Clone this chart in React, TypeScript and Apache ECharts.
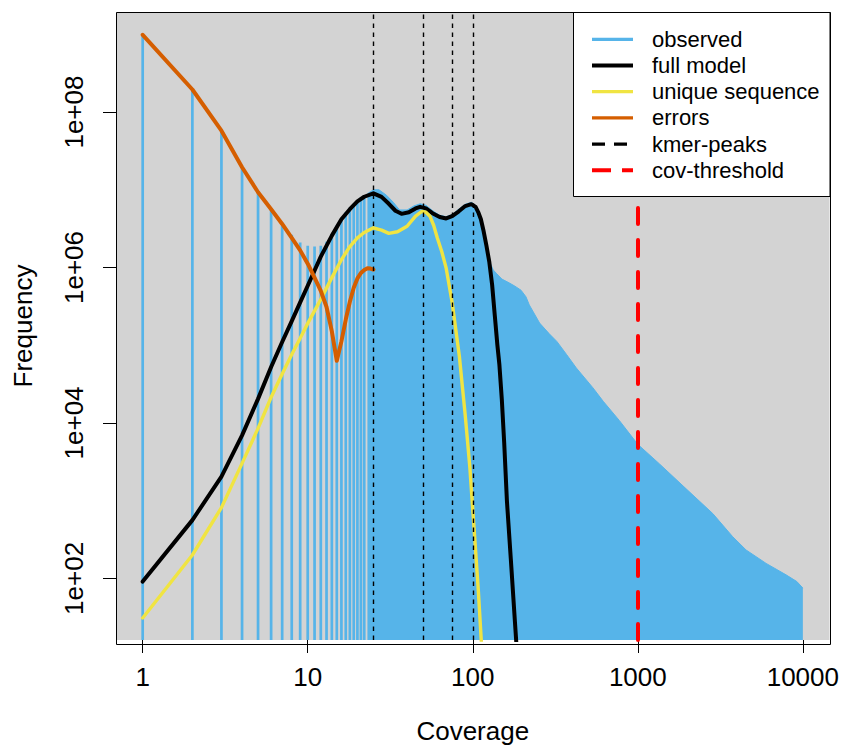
import React, { useEffect, useRef } from "react";
import * as echarts from "echarts";

const FONT = '"Liberation Sans", Arial, Helvetica, sans-serif';

const BLUE = "#56B4E9";
const BLACK = "#000000";
const YELLOW = "#F0E442";
const ORANGE = "#D55E00";
const RED = "#FF0000";
const BG = "#D3D3D3";

// observed histogram: bars that are still visible one by one
const obsCoverage = [1, 2, 3, 4, 5, 6, 7, 8, 9, 10, 11, 12, 13, 14, 15, 16, 17, 18, 19, 20, 21, 22];
const obsFrequency = [
  9.86e8, 1.95e8, 5.75e7, 1.95e7, 9.3e6, 5.75e6, 3.8e6, 2.63e6, 2.09e6, 1.91e6, 1.86e6,
  1.91e6, 2.14e6, 2.69e6, 3.47e6, 4.37e6, 5.13e6, 5.89e6, 6.61e6, 7.41e6, 7.94e6, 8.51e6,
];

// observed histogram where the bars merge (outline of the bar tops)
const denseCoverage = [
  23, 25, 27, 30, 33, 36, 40, 44, 48, 52, 57, 63, 69, 75, 82, 90, 98, 104, 110, 116, 120, 123,
  128, 133, 139, 150, 167, 180, 196, 210, 220, 254, 290, 323, 370, 424, 534, 617, 774, 1000,
  1353, 1963, 2847, 3758, 4530, 5988, 7912, 9200, 10000,
];
const denseFrequency = [
  8.9e6, 1.0e7, 1.0e7, 8.5e6, 6.9e6, 5.5e6, 5.5e6, 6.2e6, 6.6e6, 6.3e6, 5.4e6, 4.7e6, 4.5e6,
  4.8e6, 5.6e6, 6.5e6, 6.9e6, 6.3e6, 5.0e6, 3.3e6, 2.1e6, 1.45e6, 1.12e6, 9.3e5, 8.4e5, 7.1e5,
  6.3e5, 5.75e5, 5.1e5, 4.2e5, 3.3e5, 1.93e5, 1.41e5, 1.12e5, 7.6e4, 5.1e4, 2.84e4, 1.9e4,
  1.07e4, 5.3e3, 2.97e3, 1.42e3, 682, 344, 232, 156, 111, 91, 75,
];

// full model
const modelCoverage = [
  1, 2, 3, 4, 5, 6, 7, 8, 9, 10, 12, 14, 16, 18, 20, 22, 25, 28, 31, 34, 37, 41, 45, 48, 52, 57,
  63, 69, 75, 82, 90, 98, 104, 108, 112, 116, 121, 126, 131, 136, 141, 145, 150, 155, 161, 170,
  180, 190,
];
const fullModel = [
  91, 562, 2040, 6920, 2.04e4, 5.25e4, 1.1e5, 2.04e5, 3.55e5, 5.82e5, 1.38e6, 2.57e6, 4.17e6,
  5.62e6, 7.08e6, 8.13e6, 9.0e6, 8.1e6, 6.6e6, 5.37e6, 4.9e6, 5.13e6, 5.75e6, 6.03e6, 5.75e6,
  5.0e6, 4.47e6, 4.27e6, 4.57e6, 5.25e6, 6.17e6, 6.53e6, 6.03e6, 5.13e6, 4.17e6, 3.02e6, 1.91e6,
  1.17e6, 6.0e5, 2.4e5, 1.0e5, 5.6e4, 2.0e4, 5.6e3, 1.0e3, 178, 28, 5,
];

// unique sequence
const uniqueCoverage = [
  1, 2, 3, 4, 5, 6, 7, 8, 9, 10, 12, 14, 16, 18, 20, 22, 25, 28, 31, 35, 40, 45, 49, 52, 55, 58,
  61, 65, 69, 75, 83, 90, 96, 102, 108, 113,
];
const uniqueSequence = [
  31, 200, 813, 3020, 8510, 2.14e4, 4.27e4, 7.59e4, 1.23e5, 1.91e5, 3.89e5, 7.41e5, 1.26e6,
  1.86e6, 2.4e6, 2.82e6, 3.24e6, 3.02e6, 2.75e6, 2.88e6, 3.39e6, 4.57e6, 5.25e6, 5.13e6, 4.57e6,
  3.47e6, 2.4e6, 1.58e6, 9.8e5, 3.55e5, 7.1e4, 1.26e4, 2690, 417, 71, 14,
];

// errors
const errorCoverage = [1, 2, 3, 4, 5, 6, 7, 8, 9, 10, 11, 12, 13, 14, 15, 16, 17, 18, 19, 20, 21, 22, 23, 24, 25];
const errors = [
  9.86e8, 1.95e8, 5.75e7, 1.95e7, 9.3e6, 5.6e6, 3.63e6, 2.4e6, 1.66e6, 1.12e6, 7.4e5, 5.0e5,
  3.1e5, 1.51e5, 6.3e4, 1.12e5, 2.14e5, 3.63e5, 5.5e5, 7.24e5, 8.5e5, 9.3e5, 9.8e5, 9.7e5, 9.4e5,
];

const kmerPeaks = [25, 50, 75, 100];
const covThreshold = 1000;

const xTicks = [1, 10, 100, 1000, 10000];
const yTicks = [100, 1e4, 1e6, 1e8];

const legendLabels = ["observed", "full model", "unique sequence", "errors", "kmer-peaks", "cov-threshold"];

// axis ranges (R style: data range extended by 4% on log scale)
const X_MIN = Math.pow(10, -0.1617);
const X_MAX = Math.pow(10, 4.1617);
const Y_MIN = Math.pow(10, 1.2074);
const Y_MAX = Math.pow(10, 9.287);

// layout
const W = 842;
const H = 749;
const GL = 116;
const GT = 12;
const GR = 830;
const GB = 644;
const AXIS_FONT = 26;

function pairs(xs: number[], ys: number[]) {
  return xs.map((x, i) => [x, ys[i]]);
}

function yLabel(v: number) {
  const e = Math.round(Math.log10(v));
  return "1e+" + (e < 10 ? "0" + e : String(e));
}

export default function App() {
  const ref = useRef<HTMLDivElement>(null);

  useEffect(() => {
    document.body.style.margin = "0";
    document.body.style.overflow = "hidden";
    if (!ref.current) return;
    const chart = echarts.init(ref.current, undefined, { renderer: "svg" });

    const legendColors = [BLUE, BLACK, YELLOW, ORANGE, BLACK, RED];
    const legendWidths = [3.3, 4, 3.3, 3.3, 3.3, 4];
    const legendDash: any[] = [null, null, null, null, [13, 9], [19, 11]];
    const lx0 = 592;
    const lx1 = 633;
    const rowY0 = 39.3;
    const rowStep = 26.2;

    const legendEls: any[] = [
      {
        type: "rect",
        shape: { x: 573.5, y: GT + 0.5, width: GR - 573.5, height: 196 - GT },
        style: { fill: "#ffffff", stroke: "#000000", lineWidth: 1 },
        z: 100,
      },
    ];
    legendLabels.forEach((label, i) => {
      const y = rowY0 + i * rowStep;
      legendEls.push({
        type: "line",
        shape: { x1: lx0, y1: y, x2: lx1, y2: y },
        style: {
          stroke: legendColors[i],
          lineWidth: legendWidths[i],
          lineDash: legendDash[i] || undefined,
        },
        z: 101,
      });
      legendEls.push({
        type: "text",
        x: 652,
        y: y,
        style: {
          text: label,
          fill: "#000000",
          font: `22px ${FONT}`,
          textVerticalAlign: "middle",
          verticalAlign: "middle",
          align: "left",
        },
        z: 101,
      });
    });

    const option: any = {
      animation: false,
      backgroundColor: "#ffffff",
      textStyle: { fontFamily: FONT },
      grid: {
        left: GL,
        top: GT,
        width: GR - GL,
        height: GB - GT,
        show: true,
        backgroundColor: BG,
        borderWidth: 0,
        containLabel: false,
      },
      xAxis: {
        type: "log",
        logBase: 10,
        min: X_MIN,
        max: X_MAX,
        name: "Coverage",
        nameLocation: "middle",
        nameGap: 78,
        nameTextStyle: { fontSize: AXIS_FONT, color: "#000", fontFamily: FONT },
        axisLine: { show: false },
        axisTick: {
          show: true,
          inside: false,
          length: 13,
          lineStyle: { color: "#000", width: 1 },
          customValues: xTicks,
        },
        axisLabel: {
          show: true,
          customValues: xTicks,
          fontSize: AXIS_FONT,
          color: "#000",
          fontFamily: FONT,
          margin: 24,
          formatter: (v: number) => String(Math.round(v)),
        },
        splitLine: { show: false },
        minorTick: { show: false },
        minorSplitLine: { show: false },
      },
      yAxis: {
        type: "log",
        logBase: 10,
        min: Y_MIN,
        max: Y_MAX,
        name: "Frequency",
        nameLocation: "middle",
        nameGap: 80,
        nameTextStyle: { fontSize: AXIS_FONT, color: "#000", fontFamily: FONT },
        axisLine: { show: false },
        axisTick: {
          show: true,
          inside: false,
          length: 13,
          lineStyle: { color: "#000", width: 1 },
          customValues: yTicks,
        },
        axisLabel: {
          show: true,
          customValues: yTicks,
          fontSize: AXIS_FONT,
          color: "#000",
          fontFamily: FONT,
          rotate: 90,
          margin: 29,
          formatter: (v: number) => yLabel(v),
        },
        splitLine: { show: false },
        minorTick: { show: false },
        minorSplitLine: { show: false },
      },
      series: [
        {
          name: "observed",
          type: "custom",
          data: pairs(obsCoverage, obsFrequency),
          renderItem: (params: any, api: any) => {
            const p = api.coord([api.value(0), api.value(1)]);
            const cs = params.coordSys;
            return {
              type: "line",
              shape: { x1: p[0], y1: p[1], x2: p[0], y2: cs.y + cs.height },
              style: { stroke: BLUE, lineWidth: 2.7 },
            };
          },
          clip: true,
          silent: true,
          z: 2,
        },
        {
          name: "observed (dense)",
          type: "line",
          data: pairs(denseCoverage, denseFrequency),
          symbol: "none",
          showSymbol: false,
          lineStyle: { color: BLUE, width: 1 },
          areaStyle: { color: BLUE, opacity: 1, origin: "start" },
          silent: true,
          z: 2,
        },
        {
          name: "full model",
          type: "line",
          data: pairs(modelCoverage, fullModel),
          symbol: "none",
          showSymbol: false,
          lineStyle: { color: BLACK, width: 4, cap: "round", join: "round" },
          silent: true,
          clip: true,
          z: 3,
        },
        {
          name: "unique sequence",
          type: "line",
          data: pairs(uniqueCoverage, uniqueSequence),
          symbol: "none",
          showSymbol: false,
          lineStyle: { color: YELLOW, width: 3.4, cap: "round", join: "round" },
          silent: true,
          clip: true,
          z: 3,
        },
        {
          name: "errors",
          type: "line",
          data: pairs(errorCoverage, errors),
          symbol: "none",
          showSymbol: false,
          lineStyle: { color: ORANGE, width: 4, cap: "round", join: "round" },
          silent: true,
          clip: true,
          z: 3,
          markLine: {
            silent: true,
            symbol: ["none", "none"],
            label: { show: false },
            animation: false,
            data: [
              ...kmerPeaks.map((v) => ({
                xAxis: v,
                lineStyle: { color: BLACK, width: 1.4, type: [4.5, 4.5] },
              })),
              {
                xAxis: covThreshold,
                lineStyle: { color: RED, width: 4, type: [16, 16], cap: "round" },
              },
            ],
          },
        },
      ],
      graphic: [
        ...legendEls,
        {
          type: "rect",
          shape: { x: GL + 0.5, y: GT + 0.5, width: GR - GL, height: GB - GT },
          style: { fill: "none", stroke: "#000000", lineWidth: 1 },
          z: 102,
          silent: true,
        },
      ],
    };

    chart.setOption(option);
    return () => {
      chart.dispose();
    };
  }, []);

  return <div ref={ref} style={{ width: W, height: H }} />;
}
